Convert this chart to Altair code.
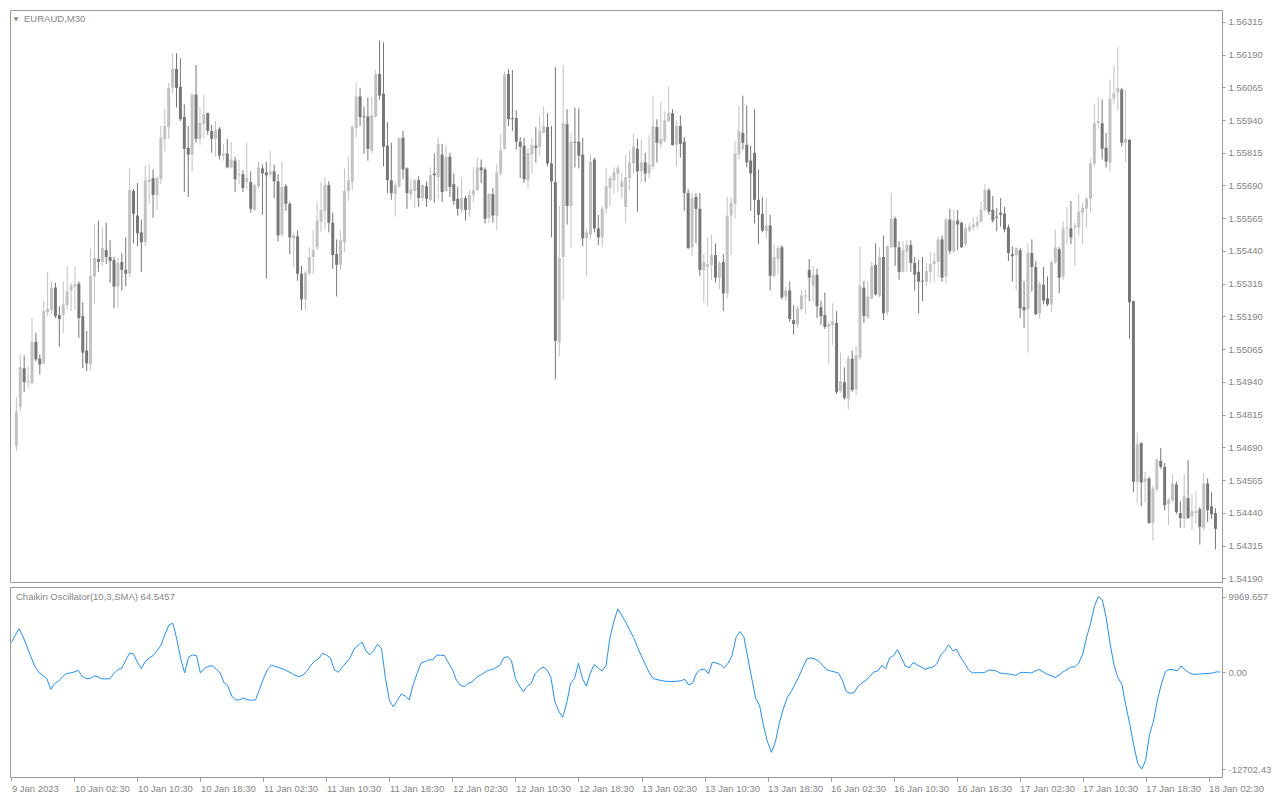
import json
import altair as alt
import pandas as pd

# ---------------- data (EURAUD, M30) ----------------
open_ = [
    1.54695, 1.54845, 1.54992, 1.54939, 1.54935, 1.55093, 1.55029, 1.55011, 1.55206, 1.55214,
    1.55300, 1.55195, 1.55195, 1.55233, 1.55289, 1.55304, 1.55315, 1.55191, 1.55060, 1.55007,
    1.55342, 1.55409, 1.55398, 1.55443, 1.55417, 1.55405, 1.55304, 1.55398, 1.55368, 1.55353,
    1.55669, 1.55575, 1.55511, 1.55473, 1.55703, 1.55718, 1.55654, 1.55714, 1.55868, 1.55913,
    1.56063, 1.56135, 1.56067, 1.55951, 1.55834, 1.55808, 1.56037, 1.55868, 1.55924, 1.55966,
    1.55898, 1.55868, 1.55906, 1.55804, 1.55812, 1.55759, 1.55785, 1.55729, 1.55733, 1.55703,
    1.55703, 1.55597, 1.55687, 1.55755, 1.55740, 1.55733, 1.55744, 1.55706, 1.55503, 1.55687,
    1.55620, 1.55488, 1.55496, 1.55353, 1.55255, 1.55353, 1.55417, 1.55454, 1.55552, 1.55593,
    1.55691, 1.55548, 1.55428, 1.55387, 1.55473, 1.55669, 1.55703, 1.55909, 1.56030, 1.55954,
    1.55954, 1.55823, 1.55954, 1.56116, 1.56041, 1.55842, 1.55710, 1.55657, 1.55687, 1.55872,
    1.55755, 1.55657, 1.55669, 1.55710, 1.55642, 1.55687, 1.55635, 1.55736, 1.55721, 1.55808,
    1.55669, 1.55800, 1.55695, 1.55639, 1.55597, 1.55642, 1.55597, 1.55654, 1.55672, 1.55759,
    1.55751, 1.55567, 1.55657, 1.55575, 1.55736, 1.55830, 1.56116, 1.55947, 1.55947, 1.55857,
    1.55842, 1.55710, 1.55808, 1.55842, 1.55838, 1.55891, 1.55913, 1.55774, 1.55703, 1.55090,
    1.55417, 1.55924, 1.55612, 1.55857, 1.55857, 1.55808, 1.55488, 1.55503, 1.55789, 1.55526,
    1.55492, 1.55601, 1.55680, 1.55710, 1.55736, 1.55684, 1.55608, 1.55718, 1.55774, 1.55830,
    1.55744, 1.55778, 1.55736, 1.55763, 1.55913, 1.55849, 1.55860, 1.55936, 1.55966, 1.55845,
    1.55917, 1.55857, 1.55661, 1.55454, 1.55646, 1.55601, 1.55368, 1.55379, 1.55387, 1.55424,
    1.55338, 1.55398, 1.55278, 1.55575, 1.55620, 1.55808, 1.55891, 1.55845, 1.55785, 1.55815,
    1.55635, 1.55582, 1.55515, 1.55537, 1.55345, 1.55409, 1.55454, 1.55266, 1.55289, 1.55176,
    1.55161, 1.55218, 1.55266, 1.55368, 1.55308, 1.55349, 1.55225, 1.55195, 1.55150, 1.55157,
    1.55165, 1.54905, 1.54939, 1.54875, 1.55029, 1.54913, 1.55033, 1.55300, 1.55187, 1.55259,
    1.55387, 1.55270, 1.55417, 1.55206, 1.55454, 1.55563, 1.55454, 1.55360, 1.55436, 1.55462,
    1.55394, 1.55360, 1.55326, 1.55323, 1.55360, 1.55390, 1.55398, 1.55484, 1.55342, 1.55560,
    1.55439, 1.55556, 1.55548, 1.55466, 1.55518, 1.55530, 1.55537, 1.55552, 1.55597, 1.55672,
    1.55597, 1.55571, 1.55586, 1.55582, 1.55530, 1.55428, 1.55424, 1.55443, 1.55225, 1.55218,
    1.55432, 1.55379, 1.55202, 1.55311, 1.55259, 1.55236, 1.55398, 1.55447, 1.55342, 1.55526,
    1.55526, 1.55530, 1.55530, 1.55586, 1.55601, 1.55639, 1.55774, 1.55928, 1.55928, 1.55834,
    1.55778, 1.56022, 1.56045, 1.56056, 1.55853, 1.55864, 1.55248, 1.54559, 1.54706, 1.54559,
    1.54571, 1.54402, 1.54529, 1.54638, 1.54616, 1.54473, 1.54488, 1.54548, 1.54439, 1.54417,
    1.54496, 1.54428, 1.54439, 1.54454, 1.54383, 1.54552, 1.54465, 1.54439,
]
high = [
    1.54883, 1.55045, 1.55041, 1.55000, 1.55184, 1.55127, 1.55045, 1.55248, 1.55360, 1.55323,
    1.55319, 1.55229, 1.55323, 1.55383, 1.55319, 1.55383, 1.55323, 1.55244, 1.55135, 1.55447,
    1.55541, 1.55556, 1.55530, 1.55548, 1.55481, 1.55417, 1.55413, 1.55432, 1.55492, 1.55755,
    1.55676, 1.55699, 1.55560, 1.55766, 1.55770, 1.55751, 1.55725, 1.55917, 1.55984, 1.56082,
    1.56195, 1.56195, 1.56176, 1.56000, 1.55917, 1.56041, 1.56150, 1.55988, 1.56037, 1.55969,
    1.55921, 1.55936, 1.55913, 1.55849, 1.55868, 1.55857, 1.55800, 1.55789, 1.55748, 1.55853,
    1.55744, 1.55695, 1.55781, 1.55770, 1.55781, 1.55823, 1.55770, 1.55733, 1.55781, 1.55695,
    1.55627, 1.55511, 1.55518, 1.55383, 1.55364, 1.55454, 1.55518, 1.55627, 1.55706, 1.55721,
    1.55706, 1.55586, 1.55484, 1.55518, 1.55755, 1.55800, 1.55921, 1.56082, 1.56063, 1.55992,
    1.56026, 1.56030, 1.56131, 1.56244, 1.56236, 1.55932, 1.55853, 1.55706, 1.55872, 1.55898,
    1.55759, 1.55714, 1.55714, 1.55725, 1.55695, 1.55706, 1.55759, 1.55812, 1.55872, 1.55849,
    1.55845, 1.55815, 1.55736, 1.55684, 1.55721, 1.55650, 1.55672, 1.55759, 1.55796, 1.55789,
    1.55759, 1.55661, 1.55680, 1.55770, 1.55887, 1.56124, 1.56135, 1.56131, 1.55977, 1.55875,
    1.55872, 1.55834, 1.55872, 1.55913, 1.55958, 1.55992, 1.55966, 1.55917, 1.56142, 1.55612,
    1.56150, 1.55981, 1.55890, 1.55988, 1.55984, 1.55872, 1.55526, 1.55808, 1.55796, 1.55578,
    1.55612, 1.55755, 1.55729, 1.55759, 1.55766, 1.55740, 1.55808, 1.55823, 1.55887, 1.55868,
    1.55864, 1.55815, 1.55883, 1.56033, 1.55943, 1.56007, 1.55973, 1.56067, 1.55981, 1.55939,
    1.55958, 1.55875, 1.55676, 1.55661, 1.55661, 1.55661, 1.55428, 1.55492, 1.55503, 1.55469,
    1.55402, 1.55428, 1.55646, 1.55646, 1.55860, 1.55996, 1.56033, 1.55996, 1.55842, 1.55981,
    1.55751, 1.55646, 1.55642, 1.55578, 1.55466, 1.55462, 1.55462, 1.55304, 1.55323, 1.55233,
    1.55229, 1.55293, 1.55296, 1.55409, 1.55383, 1.55372, 1.55251, 1.55281, 1.55172, 1.55240,
    1.55210, 1.55052, 1.54996, 1.55041, 1.55060, 1.55078, 1.55458, 1.55326, 1.55326, 1.55398,
    1.55469, 1.55454, 1.55499, 1.55462, 1.55661, 1.55571, 1.55477, 1.55477, 1.55481, 1.55481,
    1.55417, 1.55405, 1.55417, 1.55394, 1.55436, 1.55432, 1.55496, 1.55499, 1.55567, 1.55601,
    1.55597, 1.55597, 1.55552, 1.55541, 1.55548, 1.55567, 1.55571, 1.55627, 1.55695, 1.55680,
    1.55650, 1.55605, 1.55642, 1.55608, 1.55541, 1.55458, 1.55454, 1.55451, 1.55326, 1.55469,
    1.55484, 1.55402, 1.55326, 1.55379, 1.55342, 1.55402, 1.55522, 1.55454, 1.55552, 1.55608,
    1.55631, 1.55548, 1.55657, 1.55624, 1.55646, 1.55793, 1.56003, 1.56026, 1.56018, 1.55891,
    1.56094, 1.56150, 1.56218, 1.56063, 1.56056, 1.55868, 1.55251, 1.54744, 1.54710, 1.54597,
    1.54578, 1.54544, 1.54650, 1.54687, 1.54631, 1.54496, 1.54586, 1.54559, 1.54484, 1.54586,
    1.54642, 1.54511, 1.54522, 1.54462, 1.54593, 1.54571, 1.54518, 1.54458,
]
low = [
    1.54676, 1.54826, 1.54902, 1.54917, 1.54932, 1.55018, 1.54969, 1.55007, 1.55191, 1.55199,
    1.55184, 1.55075, 1.55127, 1.55214, 1.55210, 1.55214, 1.55108, 1.54992, 1.54981, 1.54984,
    1.55240, 1.55360, 1.55383, 1.55390, 1.55319, 1.55221, 1.55221, 1.55289, 1.55304, 1.55342,
    1.55469, 1.55458, 1.55360, 1.55458, 1.55620, 1.55567, 1.55597, 1.55695, 1.55819, 1.55868,
    1.56041, 1.55988, 1.55936, 1.55665, 1.55646, 1.55744, 1.55853, 1.55845, 1.55868, 1.55883,
    1.55815, 1.55800, 1.55789, 1.55785, 1.55755, 1.55755, 1.55665, 1.55695, 1.55665, 1.55676,
    1.55586, 1.55593, 1.55680, 1.55578, 1.55334, 1.55721, 1.55642, 1.55477, 1.55492, 1.55593,
    1.55428, 1.55379, 1.55326, 1.55214, 1.55214, 1.55349, 1.55353, 1.55443, 1.55511, 1.55522,
    1.55511, 1.55372, 1.55266, 1.55368, 1.55436, 1.55631, 1.55672, 1.55872, 1.55917, 1.55812,
    1.55785, 1.55812, 1.55947, 1.56018, 1.55763, 1.55661, 1.55635, 1.55571, 1.55680, 1.55714,
    1.55601, 1.55635, 1.55605, 1.55608, 1.55631, 1.55608, 1.55631, 1.55624, 1.55639, 1.55627,
    1.55665, 1.55646, 1.55616, 1.55575, 1.55586, 1.55556, 1.55571, 1.55627, 1.55669, 1.55699,
    1.55545, 1.55548, 1.55548, 1.55518, 1.55725, 1.55827, 1.55917, 1.55898, 1.55827, 1.55718,
    1.55699, 1.55680, 1.55736, 1.55778, 1.55804, 1.55887, 1.55763, 1.55492, 1.54950, 1.55037,
    1.55251, 1.55541, 1.55454, 1.55759, 1.55755, 1.55458, 1.55345, 1.55484, 1.55511, 1.55462,
    1.55454, 1.55582, 1.55612, 1.55661, 1.55665, 1.55642, 1.55548, 1.55672, 1.55736, 1.55590,
    1.55699, 1.55703, 1.55718, 1.55751, 1.55778, 1.55834, 1.55853, 1.55932, 1.55842, 1.55763,
    1.55796, 1.55593, 1.55447, 1.55420, 1.55469, 1.55345, 1.55244, 1.55229, 1.55330, 1.55319,
    1.55293, 1.55210, 1.55259, 1.55424, 1.55563, 1.55789, 1.55827, 1.55759, 1.55593, 1.55545,
    1.55466, 1.55511, 1.55488, 1.55289, 1.55338, 1.55353, 1.55255, 1.55248, 1.55169, 1.55120,
    1.55146, 1.55210, 1.55199, 1.55248, 1.55244, 1.55184, 1.55157, 1.55142, 1.55011, 1.55082,
    1.54894, 1.54898, 1.54872, 1.54834, 1.54902, 1.54890, 1.55026, 1.55165, 1.55180, 1.55255,
    1.55270, 1.55263, 1.55176, 1.55195, 1.55451, 1.55383, 1.55330, 1.55357, 1.55360, 1.55360,
    1.55289, 1.55202, 1.55248, 1.55304, 1.55319, 1.55323, 1.55338, 1.55323, 1.55315, 1.55428,
    1.55432, 1.55443, 1.55451, 1.55458, 1.55511, 1.55518, 1.55526, 1.55548, 1.55590, 1.55578,
    1.55548, 1.55515, 1.55533, 1.55511, 1.55402, 1.55323, 1.55289, 1.55184, 1.55146, 1.55052,
    1.55285, 1.55195, 1.55180, 1.55236, 1.55229, 1.55206, 1.55390, 1.55278, 1.55330, 1.55466,
    1.55466, 1.55383, 1.55496, 1.55466, 1.55530, 1.55586, 1.55763, 1.55906, 1.55789, 1.55759,
    1.55744, 1.56003, 1.55977, 1.55838, 1.55781, 1.55105, 1.54518, 1.54477, 1.54465, 1.54480,
    1.54398, 1.54334, 1.54518, 1.54608, 1.54450, 1.54394, 1.54480, 1.54435, 1.54383, 1.54383,
    1.54417, 1.54375, 1.54398, 1.54319, 1.54371, 1.54405, 1.54417, 1.54300,
]
close = [
    1.54826, 1.54996, 1.54939, 1.54943, 1.55093, 1.55026, 1.55007, 1.55210, 1.55218, 1.55300,
    1.55191, 1.55180, 1.55236, 1.55285, 1.55308, 1.55312, 1.55184, 1.55052, 1.55011, 1.55345,
    1.55413, 1.55398, 1.55451, 1.55417, 1.55402, 1.55304, 1.55394, 1.55368, 1.55353, 1.55672,
    1.55582, 1.55507, 1.55473, 1.55710, 1.55714, 1.55654, 1.55718, 1.55872, 1.55917, 1.56063,
    1.56135, 1.56063, 1.55943, 1.55830, 1.55808, 1.56037, 1.55868, 1.55928, 1.55962, 1.55898,
    1.55868, 1.55902, 1.55804, 1.55812, 1.55759, 1.55789, 1.55714, 1.55733, 1.55680, 1.55718,
    1.55601, 1.55691, 1.55759, 1.55736, 1.55729, 1.55744, 1.55706, 1.55499, 1.55684, 1.55620,
    1.55492, 1.55499, 1.55353, 1.55255, 1.55357, 1.55417, 1.55443, 1.55556, 1.55597, 1.55691,
    1.55548, 1.55424, 1.55387, 1.55481, 1.55669, 1.55710, 1.55913, 1.56030, 1.55951, 1.55951,
    1.55830, 1.55958, 1.56116, 1.56033, 1.55838, 1.55710, 1.55661, 1.55691, 1.55872, 1.55751,
    1.55661, 1.55676, 1.55710, 1.55642, 1.55691, 1.55639, 1.55729, 1.55729, 1.55849, 1.55665,
    1.55800, 1.55684, 1.55631, 1.55601, 1.55642, 1.55597, 1.55654, 1.55672, 1.55759, 1.55748,
    1.55563, 1.55657, 1.55575, 1.55740, 1.55823, 1.56112, 1.55943, 1.55943, 1.55857, 1.55838,
    1.55714, 1.55815, 1.55845, 1.55834, 1.55898, 1.55917, 1.55774, 1.55706, 1.55097, 1.55413,
    1.55928, 1.55612, 1.55857, 1.55853, 1.55804, 1.55488, 1.55511, 1.55781, 1.55526, 1.55492,
    1.55601, 1.55687, 1.55718, 1.55740, 1.55755, 1.55706, 1.55721, 1.55778, 1.55838, 1.55744,
    1.55778, 1.55736, 1.55770, 1.55917, 1.55853, 1.55868, 1.55939, 1.55966, 1.55845, 1.55917,
    1.55849, 1.55661, 1.55451, 1.55642, 1.55601, 1.55368, 1.55398, 1.55390, 1.55424, 1.55338,
    1.55394, 1.55278, 1.55575, 1.55624, 1.55812, 1.55898, 1.55853, 1.55778, 1.55736, 1.55635,
    1.55578, 1.55518, 1.55537, 1.55345, 1.55417, 1.55451, 1.55263, 1.55289, 1.55180, 1.55161,
    1.55221, 1.55270, 1.55270, 1.55338, 1.55349, 1.55229, 1.55191, 1.55150, 1.55161, 1.55172,
    1.54902, 1.54943, 1.54879, 1.55029, 1.54909, 1.55041, 1.55308, 1.55191, 1.55266, 1.55383,
    1.55274, 1.55417, 1.55202, 1.55458, 1.55563, 1.55454, 1.55360, 1.55443, 1.55462, 1.55394,
    1.55349, 1.55323, 1.55323, 1.55364, 1.55390, 1.55402, 1.55484, 1.55338, 1.55560, 1.55439,
    1.55556, 1.55541, 1.55454, 1.55526, 1.55533, 1.55541, 1.55552, 1.55597, 1.55672, 1.55590,
    1.55556, 1.55567, 1.55578, 1.55522, 1.55432, 1.55420, 1.55451, 1.55221, 1.55214, 1.55432,
    1.55379, 1.55199, 1.55315, 1.55251, 1.55236, 1.55398, 1.55454, 1.55338, 1.55526, 1.55530,
    1.55492, 1.55537, 1.55590, 1.55605, 1.55639, 1.55774, 1.55928, 1.55936, 1.55830, 1.55781,
    1.56022, 1.56041, 1.56063, 1.55853, 1.55868, 1.55244, 1.54559, 1.54702, 1.54556, 1.54571,
    1.54402, 1.54533, 1.54642, 1.54616, 1.54469, 1.54488, 1.54552, 1.54443, 1.54420, 1.54503,
    1.54420, 1.54447, 1.54447, 1.54387, 1.54552, 1.54450, 1.54435, 1.54379,
]
chaikin = [
    3944, 4888, 5754, 4668, 3336, 2004, 750, -26, -414, -802,
    -2224, -1448, -1151, -543, -155, -65, 65, 272, -543, -802,
    -802, -453, -582, -840, -840, -840, -155, 362, 530, 1565,
    2521, 2431, 1358, 491, 1435, 1914, 2211, 2858, 3595, 5017,
    6219, 6478, 4370, 1784, -65, 2004, 2302, 2211, -65, 491,
    789, 879, 491, -65, -1358, -1797, -3168, -3607, -3607, -3349,
    -3607, -3646, -3607, -2224, -802, 362, 970, 789, 621, 453,
    194, -65, -375, -543, -375, 142, 918, 1487, 1784, 2521,
    2302, 1914, 362, 13, 711, 1267, 1914, 3077, 3504, 4021,
    2858, 2302, 2858, 3724, 3077, -802, -3685, -4551, -3685, -2832,
    -3090, -3607, -1668, -155, 1228, 1435, 1655, 1655, 2263, 2263,
    2211, 1228, 362, -1021, -1668, -1875, -1448, -1228, -711, -375,
    -65, 272, 362, 621, 918, 1914, 2082, 1487, -802, -1797,
    -2521, -1797, -1448, -155, 362, 711, 362, -672, -3814, -5107,
    -5883, -4034, -1448, -802, 1228, -802, -1797, -65, 1047, 582,
    194, 918, 4590, 6737, 8340, 7512, 6607, 5573, 4590, 3297,
    2133, 1009, -65, -802, -931, -1060, -1151, -1190, -1190, -1151,
    -1099, -892, -1668, -1358, -65, 362, 453, -155, 1358, 1228,
    1047, 621, 1228, 2211, 4590, 5366, 4668, 1914, -802, -3388,
    -4383, -7047, -9116, -10499, -9116, -6620, -4810, -3297, -2521, -1539,
    -504, 711, 1784, 1914, 1784, 1487, 918, 362, 194, 65,
    -65, -1021, -2521, -2741, -2651, -1797, -1358, -1021, -504, 65,
    194, 918, 491, 1914, 2211, 2987, 1914, 840, 621, 1306,
    1009, 711, 401, 582, 711, 1138, 2302, 2858, 3633, 2858,
    3039, 2004, 1228, 362, -65, -26, -26, -26, 272, 323,
    194, -65, -155, -194, -246, -414, -65, 13, -26, -65,
    194, 401, 65, -246, -414, -672, -375, 65, 362, 711,
    711, 1228, 2340, 4590, 6400, 8676, 9969.657, 9542, 7176, 3724,
    918, -711, -1577, -4383, -6840, -9633, -11921, -12702.43, -11572, -8133,
    -6400, -3607, -1539, 65, 401, 362, 194, 840, 362, -26,
    -246, -246, -194, -155, -155, -65, 65, 64.5457,
]
tick_labels = [
    "9 Jan 2023", "10 Jan 02:30", "10 Jan 10:30", "10 Jan 18:30", "11 Jan 02:30",
    "11 Jan 10:30", "11 Jan 18:30", "12 Jan 02:30", "12 Jan 10:30", "12 Jan 18:30",
    "13 Jan 02:30", "13 Jan 10:30", "13 Jan 18:30", "16 Jan 02:30", "16 Jan 10:30",
    "16 Jan 18:30", "17 Jan 02:30", "17 Jan 10:30", "17 Jan 18:30", "18 Jan 02:30",
]
price_ticks = [1.54190, 1.54315, 1.54440, 1.54565, 1.54690, 1.54815, 1.54940, 1.55065,
               1.55190, 1.55315, 1.55440, 1.55565, 1.55690, 1.55815, 1.55940, 1.56065,
               1.56190, 1.56315]
osc_ticks = [-12702.43, 0, 9969.657]

# ---------------- build ----------------
n = len(open_)
df = pd.DataFrame({
    "bar": list(range(n)),
    "open": open_, "high": high, "low": low, "close": close,
    "chaikin": chaikin,
})
df["dir"] = ["up" if c >= o else "down" for o, c in zip(open_, close)]

W = 1212
H_MAIN = 572
H_OSC = 190
FONT = "Liberation Sans"
TXT = "#858585"
BORDER = "#9a9a9a"

xscale = alt.Scale(domain=[-0.35, 307.4], nice=False, zero=False)
color = alt.Color("dir:N", scale=alt.Scale(domain=["up", "down"], range=["#c2c2c2", "#777777"]), legend=None)
pscale = alt.Scale(domain=[1.54176, 1.56360], nice=False, zero=False)
paxis = alt.Axis(orient="right", values=price_ticks, format=".5f", tickSize=3, labelPadding=3,
                 labelAlign="left", labelBaseline="middle", title=None, domain=False, grid=False,
                 labelFlush=False, labelOverlap=False)

base = alt.Chart(df)
wicks = base.mark_rule(strokeWidth=1, clip=True).encode(
    x=alt.X("bar:Q", scale=xscale, axis=None),
    y=alt.Y("low:Q", scale=pscale, axis=paxis),
    y2="high:Q",
    color=color,
)
bodies = base.mark_bar(size=3, clip=True).encode(
    x=alt.X("bar:Q", scale=xscale, axis=None),
    y=alt.Y("open:Q", scale=pscale, axis=paxis),
    y2="close:Q",
    color=color,
)
hdr = pd.DataFrame({"t": ["EURAUD,M30"], "a": ["\u25bc"]})
arrow = alt.Chart(hdr).mark_text(align="center", baseline="middle", fontSize=6, color="#8a8a8a",
                                 font="DejaVu Sans").encode(
    x=alt.value(6), y=alt.value(9), text="a:N")
sym = alt.Chart(hdr).mark_text(align="left", baseline="middle", fontSize=9.5, color=TXT, font=FONT).encode(
    x=alt.value(14), y=alt.value(9), text="t:N")

main = alt.layer(wicks, bodies, arrow, sym).properties(width=W, height=H_MAIN)

label_expr = json.dumps(tick_labels) + "[round(datum.value / 16)]"
xaxis = alt.Axis(values=list(range(0, 305, 16)), labelExpr=label_expr, tickSize=4, labelAlign="left",
                 labelPadding=2, labelOverlap=False, labelFlush=False, title=None, domain=False, grid=False)
oaxis = alt.Axis(orient="right", values=osc_ticks, tickSize=3, labelPadding=3, labelAlign="left",
                 labelBaseline="middle", title=None, domain=False, grid=False, labelFlush=False,
                 labelOverlap=False,
                 labelExpr="datum.value == 0 ? '0.00' : (datum.value > 0 ? '9969.657' : '-12702.43')")

osc_line = alt.Chart(df).mark_line(color="#1e90ff", strokeWidth=1, clip=True).encode(
    x=alt.X("bar:Q", scale=xscale, axis=xaxis),
    y=alt.Y("chaikin:Q", scale=alt.Scale(domain=[-13737, 11224], nice=False, zero=False), axis=oaxis),
)
osc_hdr = pd.DataFrame({"t": ["Chaikin Oscillator(10,3,SMA) 64.5457"]})
osc_title = alt.Chart(osc_hdr).mark_text(align="left", baseline="middle", fontSize=9.5, color=TXT,
                                         font=FONT).encode(
    x=alt.value(6), y=alt.value(10), text="t:N")
osc = alt.layer(osc_line, osc_title).properties(width=W, height=H_OSC)

chart = (
    alt.vconcat(main, osc, spacing=2)
    .resolve_scale(y="independent", color="independent")
    .properties(padding={"left": 1, "top": 1, "right": 0, "bottom": 0}, background="white")
    .configure_view(stroke=BORDER, strokeWidth=1)
    .configure_axis(labelFont=FONT, labelFontSize=9.5, labelColor=TXT, tickColor=BORDER)
)

chart.save("out.html", embed_options={"renderer": "svg", "actions": False})
